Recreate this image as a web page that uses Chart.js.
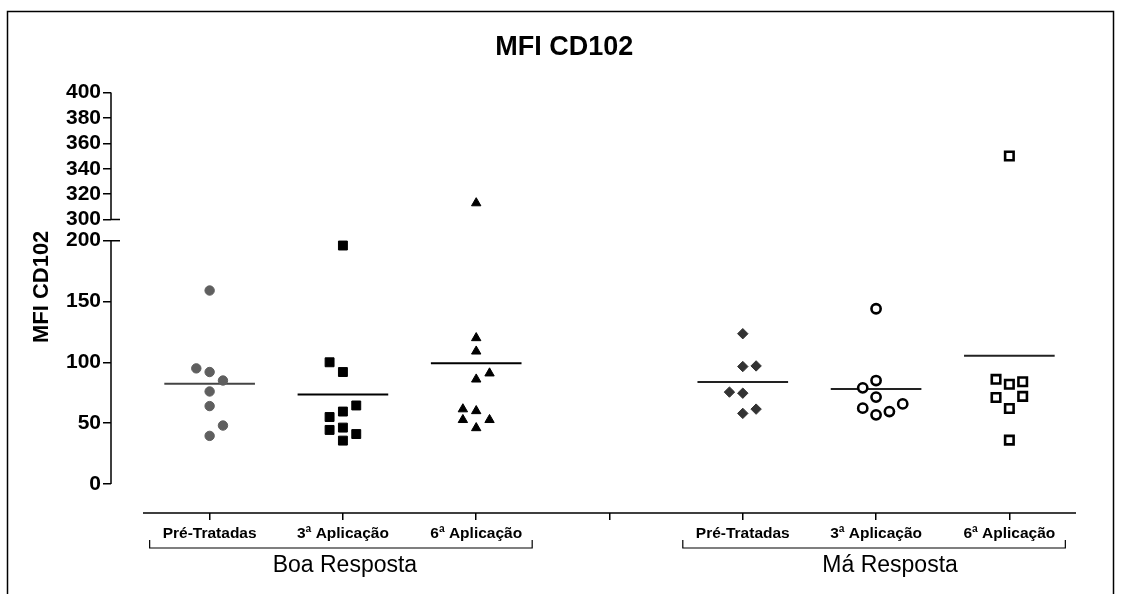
<!DOCTYPE html>
<html lang="pt">
<head>
    <meta charset="UTF-8">
    <title>MFI CD102</title>
    <script src="https://cdn.jsdelivr.net/npm/chart.js"></script>
    <style>
        body { margin: 0; background: #fff; }
        .chart-box { width: 1123px; height: 594px; position: relative; }
    </style>
</head>
<body>
    <div class="chart-box">
        <canvas id="mfiChart"></canvas>
    </div>

    <script>
        // categorias do eixo x (a posição vazia separa os dois grupos)
        const categories = ['Pré-Tratadas', '3ª Aplicação', '6ª Aplicação', '', 'Pré-Tratadas', '3ª Aplicação', '6ª Aplicação'];
        const groupNames = ['Boa Resposta', 'Má Resposta'];
        const yTickValues = [0, 50, 100, 150, 200, 300, 320, 340, 360, 380, 400];
        const chartTitle = 'MFI CD102';
        const yTitle = 'MFI CD102';

        const boaPre = [159, 95, 92, 85, 76, 64, 48, 39.5];
        const boaPreCol = [0, -1, 0, 1, 0, 0, 1, 0];
        const boa3 = [196, 100, 92, 64.5, 59.5, 55, 46.3, 44.4, 41, 35.6];
        const boa3Col = [0, -1, 0, 1, 0, -1, 0, -1, 1, 0];
        const boa6 = [313, 120, 109, 91, 86, 61.5, 60, 52.7, 52.7, 46];
        const boa6Col = [0, 0, 0, 1, 0, -1, 0, -1, 1, 0];
        const maPre = [123.5, 96.5, 97, 75.5, 74.6, 61.5, 58];
        const maPreCol = [0, 0, 1, -1, 0, 1, 0];
        const ma3 = [144, 85, 79, 71.4, 65.8, 62.3, 59.5, 56.8];
        const ma3Col = [0, 0, -1, 0, 2, -1, 1, 0];
        const ma6 = [350, 86, 84, 82, 72, 71, 62, 36];
        const ma6Col = [0, -1, 1, 0, 1, -1, 0, 0];

        // eixo y quebrado: 0-200 normal, 300-400 logo acima
        const BREAK_LOW = 200, BREAK_HIGH = 300, UPPER_START = 217.3, UPPER_FACTOR = 1.045;
        function toAxis(v) {
            return v <= BREAK_LOW ? v : UPPER_START + (v - BREAK_HIGH) * UPPER_FACTOR;
        }

        const JITTER = 0.1;
        const MEAN_HALF = 0.34;
        const FONT = '"Liberation Sans", Arial, sans-serif';

        const series = [
            { pos: 0, values: boaPre, cols: boaPreCol, style: 'circle', radius: 4.7, fill: '#5f5f5f', border: '#5f5f5f', bw: 1, line: '#444' },
            { pos: 1, values: boa3, cols: boa3Col, style: 'rect', radius: 6.3, fill: '#000', border: '#000', bw: 1, line: '#000' },
            { pos: 2, values: boa6, cols: boa6Col, style: 'triangle', radius: 5.4, fill: '#000', border: '#000', bw: 1, line: '#000' },
            { pos: 4, values: maPre, cols: maPreCol, style: 'rectRot', radius: 5.2, fill: '#333', border: '#333', bw: 1, line: '#222' },
            { pos: 5, values: ma3, cols: ma3Col, style: 'circle', radius: 4.6, fill: '#fff', border: '#000', bw: 2.6, line: '#222' },
            { pos: 6, values: ma6, cols: ma6Col, style: 'rect', radius: 6.0, fill: '#fff', border: '#000', bw: 2.6, line: '#222' }
        ];

        function mean(arr) {
            return arr.reduce((a, b) => a + b, 0) / arr.length;
        }

        const datasets = [];
        series.forEach(s => {
            datasets.push({
                data: s.values.map((v, i) => ({ x: s.pos + s.cols[i] * JITTER, y: toAxis(v) })),
                pointStyle: s.style,
                pointRadius: s.radius,
                pointBackgroundColor: s.fill,
                pointBorderColor: s.border,
                pointBorderWidth: s.bw,
                showLine: false,
                order: 1
            });
            const m = toAxis(mean(s.values));
            datasets.push({
                data: [{ x: s.pos - MEAN_HALF, y: m }, { x: s.pos + MEAN_HALF, y: m }],
                showLine: true,
                borderColor: s.line,
                borderWidth: 2,
                pointRadius: 0,
                order: 2
            });
        });

        const frameAndAxes = {
            id: 'frameAndAxes',
            beforeDraw(chart) {
                const ctx = chart.ctx;
                ctx.save();
                ctx.fillStyle = '#fff';
                ctx.fillRect(0, 0, chart.width, chart.height);
                ctx.strokeStyle = '#000';
                ctx.lineWidth = 1.5;
                ctx.strokeRect(7.5, 11.5, 1106, 620);
                ctx.restore();
            },
            afterDraw(chart) {
                const ctx = chart.ctx;
                const xs = chart.scales.x, ys = chart.scales.y;
                const ax = chart.chartArea.left;
                const top = chart.chartArea.top;
                const bottom = chart.chartArea.bottom;
                ctx.save();
                ctx.strokeStyle = '#000';
                ctx.lineWidth = 1.5;
                ctx.beginPath();
                // eixo y em dois segmentos
                ctx.moveTo(ax, ys.getPixelForValue(0));
                ctx.lineTo(ax, ys.getPixelForValue(toAxis(BREAK_LOW)));
                ctx.moveTo(ax, ys.getPixelForValue(toAxis(BREAK_HIGH)));
                ctx.lineTo(ax, ys.getPixelForValue(toAxis(400)));
                // marcas da quebra atravessam o eixo
                [BREAK_LOW, BREAK_HIGH].forEach(v => {
                    const py = ys.getPixelForValue(toAxis(v));
                    ctx.moveTo(ax, py);
                    ctx.lineTo(ax + 9, py);
                });
                // eixo x
                ctx.moveTo(xs.getPixelForValue(-0.5), bottom);
                ctx.lineTo(xs.getPixelForValue(categories.length - 0.5), bottom);
                ctx.stroke();

                ctx.fillStyle = '#000';
                ctx.textAlign = 'center';
                ctx.textBaseline = 'middle';

                // título
                ctx.font = 'bold 27px ' + FONT;
                ctx.fillText(chartTitle, xs.getPixelForValue(2.66), top - 45);

                // título do eixo y
                ctx.save();
                ctx.translate(ax - 69, ys.getPixelForValue(toAxis(162)));
                ctx.rotate(-Math.PI / 2);
                ctx.font = 'bold 22px ' + FONT;
                ctx.fillText(yTitle, 0, 0);
                ctx.restore();

                // chaves dos grupos
                const spans = [[0, 2], [4, 6]];
                const labelShift = [4, 16];
                const by = bottom + 35;
                ctx.lineWidth = 1.2;
                ctx.font = '23px ' + FONT;
                spans.forEach((sp, gi) => {
                    const x1 = xs.getPixelForValue(sp[0] - 0.45);
                    const x2 = xs.getPixelForValue(sp[1] + 0.42);
                    ctx.beginPath();
                    ctx.moveTo(x1, by - 8);
                    ctx.lineTo(x1, by);
                    ctx.lineTo(x2, by);
                    ctx.lineTo(x2, by - 8);
                    ctx.stroke();
                    ctx.fillText(groupNames[gi], (x1 + x2) / 2 + labelShift[gi], by + 18);
                });
                ctx.restore();
            }
        };

        new Chart(document.getElementById('mfiChart'), {
            type: 'scatter',
            data: { datasets: datasets },
            options: {
                responsive: true,
                maintainAspectRatio: false,
                animation: false,
                layout: { padding: { left: 27, top: 92.5, right: 47, bottom: 0 } },
                plugins: {
                    legend: { display: false },
                    tooltip: { enabled: false },
                    title: { display: false }
                },
                scales: {
                    x: {
                        type: 'linear',
                        min: -0.74,
                        max: categories.length - 0.5,
                        afterBuildTicks: s => { s.ticks = categories.map((c, i) => ({ value: i })); },
                        afterFit: s => { s.height = 81; },
                        ticks: {
                            callback: (v, i) => categories[i],
                            color: '#000',
                            autoSkip: false,
                            maxRotation: 0,
                            padding: 4,
                            font: { family: FONT, size: 15.5, weight: 'bold' }
                        },
                        grid: { drawOnChartArea: false, tickLength: 7, color: '#000', lineWidth: 1.5 },
                        border: { display: false }
                    },
                    y: {
                        type: 'linear',
                        min: -23.9,
                        max: toAxis(400),
                        afterBuildTicks: s => { s.ticks = yTickValues.map(v => ({ value: toAxis(v) })); },
                        afterFit: s => { s.width = 84; },
                        ticks: {
                            callback: (v, i) => String(yTickValues[i]),
                            color: '#000',
                            autoSkip: false,
                            padding: 2,
                            font: { family: FONT, size: 21, weight: 'bold' }
                        },
                        grid: { drawOnChartArea: false, tickLength: 8, color: '#000', lineWidth: 1.5 },
                        border: { display: false }
                    }
                }
            },
            plugins: [frameAndAxes]
        });
    </script>
</body>
</html>
